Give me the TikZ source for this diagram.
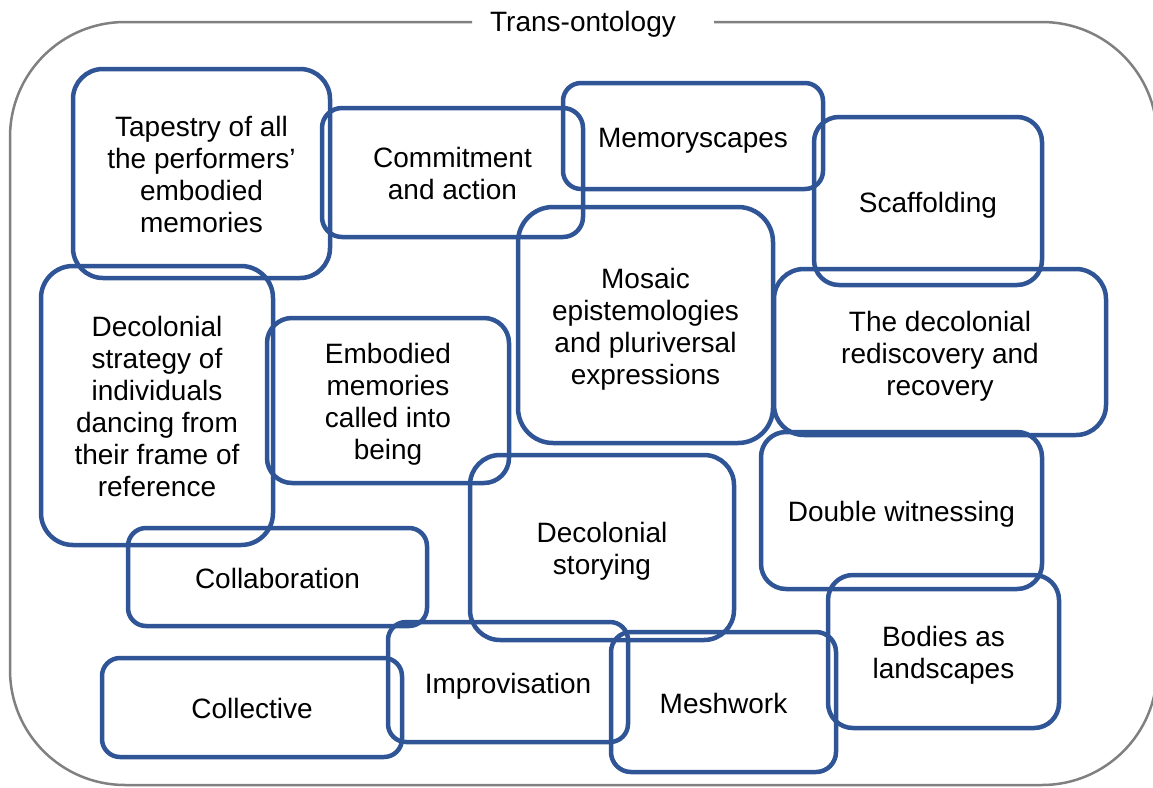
\documentclass[tikz,border=0pt]{standalone}
\usepackage{fontspec}
\setmainfont{Liberation Sans}
\definecolor{boxblue}{RGB}{47,85,151}
\definecolor{framegray}{RGB}{128,128,128}
% line-box struts so that text is centred on full ascent/descent
\newcommand{\topstrut}{\rule{0pt}{28pt}}
\newcommand{\botstrut}{\rule[-5.9pt]{0pt}{0pt}}
\begin{document}
\begin{tikzpicture}[x=1pt,y=-1pt,
  concept/.style n args={3}{draw=boxblue, line width=4.5pt, rounded corners=#3,
    minimum width=#1, minimum height=#2, inner sep=0pt, align=center,
    font=\fontsize{28}{32}\selectfont},
  frame/.style={draw=framegray, line width=2.5pt, rounded corners=115pt},
  heading/.style={font=\fontsize{28}{32}\selectfont, inner sep=0pt}]
\useasboundingbox (0,0) rectangle (1153,787);

% outer container with the heading set into its top edge
\draw[frame] (472,22) -- (10,22) -- (10,785) -- (1157,785) -- (1157,22) -- (714,22);
\node[heading] (title) at (583,22) {\rule{0pt}{25.3pt}Trans-ontology\botstrut};

% concepts
\node[concept={257pt}{209pt}{30pt}] (tapestry) at (201.5,173.5)
  {\topstrut Tapestry of all\\the performers’\\embodied\\memories\botstrut};
\node[concept={261pt}{129pt}{20pt}] (commit) at (452.5,172.5)
  {\topstrut Commitment\\and action\botstrut};
\node[concept={260pt}{106pt}{18pt}] (memory) at (693,136)
  {\topstrut Memoryscapes\botstrut};
\node[concept={228pt}{168pt}{25pt}] (scaffold) at (928,201)
  {\topstrut Scaffolding\botstrut};
\node[concept={255pt}{236pt}{35pt}] (mosaic) at (645.5,325)
  {\topstrut Mosaic\\epistemologies\\and pluriversal\\expressions\botstrut};
\node[concept={332pt}{166pt}{30pt}] (rediscovery) at (940,352)
  {\topstrut The decolonial\\rediscovery and\\recovery\botstrut};
\node[concept={232pt}{279pt}{32pt}] (strategy) at (157,405.5)
  {\topstrut Decolonial\\strategy of\\individuals\\dancing from\\their frame of\\reference\botstrut};
\node[concept={242pt}{165pt}{25pt}] (embodied) at (388,400.5)
  {\topstrut Embodied\\memories\\called into\\being\botstrut};
\node[concept={264pt}{185pt}{30pt}] (storying) at (602,547.5)
  {\topstrut Decolonial\\storying\botstrut};
\node[concept={281pt}{157pt}{25pt}] (witness) at (901.5,510.5)
  {\topstrut Double witnessing\botstrut};
\node[concept={299pt}{98pt}{18pt}] (collab) at (277.5,577)
  {\topstrut Collaboration\botstrut};
\node[concept={300pt}{99pt}{18pt}] (collective) at (252,707.5)
  {\topstrut Collective\botstrut};
\node[concept={240pt}{120pt}{18pt}] (improv) at (508,682)
  {\topstrut Improvisation\botstrut};
\node[concept={225pt}{140pt}{20pt}] (mesh) at (723.5,702)
  {\topstrut Meshwork\botstrut};
\node[concept={231pt}{153pt}{25pt}] (bodies) at (943.5,651.5)
  {\topstrut Bodies as\\landscapes\botstrut};
\end{tikzpicture}
\end{document}
